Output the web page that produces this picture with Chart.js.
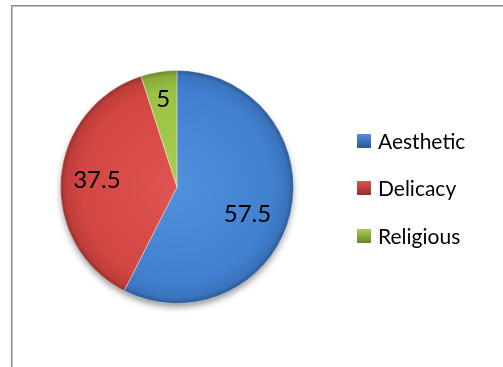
<!DOCTYPE html>
<html>
<head>
<meta charset="utf-8">
<script src="https://cdn.jsdelivr.net/npm/chart.js@4"></script>
<style>
  html, body { margin: 0; padding: 0; background: #fff; overflow: hidden; }
  #frame {
    position: absolute; left: 11px; top: 5px; width: 600px; height: 500px;
    border: 1px solid #8a8a8a; box-shadow: inset 1px 1px 0 #c4c4c4;
  }
  #wrap { position: absolute; left: 0; top: 0; width: 503px; height: 367px; }
</style>
</head>
<body>
<div id="frame"></div>
<div id="wrap"><canvas id="pie"></canvas></div>
<script>
// Share of responses per category
const categories = ['Aesthetic', 'Delicacy', 'Religious'];
const values = [57.5, 37.5, 5];

// light centre -> base -> dark rim, per slice
const shades = [
    ['#5190dc', '#4180cf', '#3a73bc', '#2b5890'],
    ['#df5552', '#d24643', '#bf3d3a', '#962e2b'],
    ['#a9cf52', '#9bc245', '#89ac3b', '#67862a']
];
// label placement inside each slice: [angle nudge in degrees, fraction of radius]
const labelPlace = [[8, 0.65], [0, 0.69], [0, 0.76]];

const FONT = 'Lato, "Open Sans", sans-serif';

function sliceFill(ctx) {
    const chart = ctx.chart;
    const area = chart.chartArea;
    if (!area) return shades[ctx.dataIndex][1];
    const cx = (area.left + area.right) / 2;
    const cy = (area.top + area.bottom) / 2;
    const r = Math.min(area.right - area.left, area.bottom - area.top) / 2;
    const g = chart.ctx.createRadialGradient(cx, cy, 0, cx, cy, r);
    const s = shades[ctx.dataIndex];
    g.addColorStop(0, s[0]);
    g.addColorStop(0.82, s[1]);
    g.addColorStop(0.95, s[2]);
    g.addColorStop(1, s[3]);
    return g;
}

// soft drop shadow under the pie
const pieShadow = {
    id: 'pieShadow',
    beforeDatasetsDraw(chart) {
        const arc = chart.getDatasetMeta(0).data[0];
        if (!arc) return;
        const ctx = chart.ctx;
        ctx.save();
        ctx.shadowColor = 'rgba(0,0,0,0.45)';
        ctx.shadowBlur = 7;
        ctx.shadowOffsetY = 4;
        ctx.fillStyle = '#fff';
        ctx.beginPath();
        ctx.arc(arc.x, arc.y, arc.outerRadius - 1, 0, Math.PI * 2);
        ctx.fill();
        ctx.restore();
    }
};

// value labels inside each slice
const sliceLabels = {
    id: 'sliceLabels',
    afterDatasetsDraw(chart) {
        const ctx = chart.ctx;
        const meta = chart.getDatasetMeta(0);
        ctx.save();
        ctx.font = '24px ' + FONT;
        ctx.fillStyle = '#000';
        ctx.textAlign = 'center';
        ctx.textBaseline = 'middle';
        meta.data.forEach((arc, i) => {
            const mid = (arc.startAngle + arc.endAngle) / 2 + labelPlace[i][0] * Math.PI / 180;
            const d = arc.outerRadius * labelPlace[i][1];
            ctx.fillText(String(values[i]), arc.x + Math.cos(mid) * d, arc.y + Math.sin(mid) * d);
        });
        ctx.restore();
    }
};

// legend on the right: bevelled square + name
const sideLegend = {
    id: 'sideLegend',
    afterDraw(chart) {
        const ctx = chart.ctx;
        const x = 357, size = 14, ys = [141, 188, 236];
        ctx.save();
        ctx.font = '21px ' + FONT;
        ctx.textBaseline = 'middle';
        categories.forEach((name, i) => {
            const y = ys[i];
            const s = shades[i];
            const g = ctx.createLinearGradient(0, y - size / 2, 0, y + size / 2);
            g.addColorStop(0, s[0]);
            g.addColorStop(1, s[3]);
            ctx.fillStyle = g;
            ctx.fillRect(x, y - size / 2, size, size);
            ctx.fillStyle = '#000';
            ctx.fillText(name, x + 21, y + 1);
        });
        ctx.restore();
    }
};

new Chart(document.getElementById('pie'), {
    type: 'pie',
    data: {
        labels: categories,
        datasets: [{
            data: values,
            backgroundColor: sliceFill,
            borderColor: 'rgba(255,255,255,0.35)',
            borderWidth: 1
        }]
    },
    options: {
        responsive: true,
        maintainAspectRatio: false,
        animation: false,
        layout: { padding: { left: 60, right: 209, top: 70, bottom: 63 } },
        plugins: {
            legend: { display: false },
            tooltip: { enabled: false }
        }
    },
    plugins: [pieShadow, sliceLabels, sideLegend]
});
</script>
</body>
</html>
